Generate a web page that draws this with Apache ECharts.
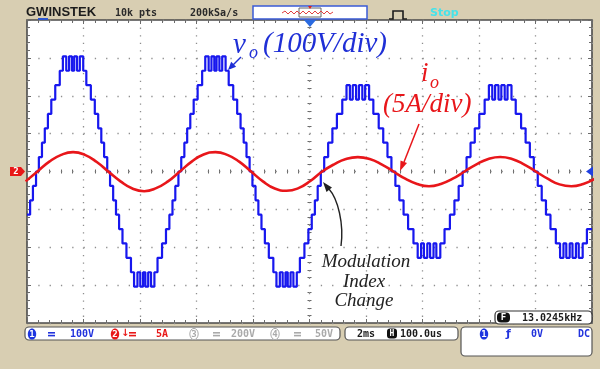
<!DOCTYPE html>
<html><head><meta charset="utf-8">
<script src="https://cdn.jsdelivr.net/npm/echarts@6/dist/echarts.min.js"></script>
<style>html,body{margin:0;padding:0;background:#d8ceb2;}#c{width:600px;height:369px;}</style>
</head><body><div id="c"></div>
<script>
// ---- Channel 1: output voltage v_o (V), staircase levels ----
const voTimeMs = [
 0.00,0.11,0.21,0.32,0.42,0.53,0.63,0.74,0.86,1.00,1.16,1.27,1.39,1.49,1.59,1.67,1.77,1.87,1.99,2.10,2.26,2.40,2.52,2.63,2.73,2.84,2.94,3.05,3.15,3.26,3.38,3.52,3.68,3.79,3.91,4.01,4.11,4.19,4.29,4.39,4.51,4.62,4.78,4.92,5.04,5.15,5.25,5.36,
 5.46,5.57,5.67,5.78,5.90,6.04,6.20,6.31,6.43,6.53,6.63,6.71,6.81,6.91,7.03,7.14,7.30,7.44,7.56,7.67,7.77,7.88,7.98,8.09,8.19,8.30,8.42,8.56,8.72,8.83,8.95,9.05,9.15,9.23,9.33,9.43,9.55,9.66,9.82,9.96,10.08,10.19,10.29,10.40,
 10.52,10.66,10.81,10.97,11.16,11.31,11.43,11.53,11.65,11.75,11.87,11.97,12.11,12.26,12.45,12.61,12.76,12.90,13.04,13.18,13.33,13.49,13.68,13.83,13.95,14.05,14.17,14.27,14.39,14.49,14.63,14.78,14.97,15.13,15.28,15.42,
 15.56,15.70,15.85,16.01,16.20,16.35,16.47,16.57,16.69,16.79,16.91,17.01,17.15,17.30,17.49,17.65,17.80,17.94,18.08,18.22,18.37,18.53,18.72,18.87,18.99,19.09,19.21,19.31,19.43,19.53,19.67,19.82,20.00
];
const voVolts = [
 -114,-76,-38,0,38,76,114,152,190,228,266,304,266,304,266,304,266,304,266,228,190,152,114,76,38,0,-38,-76,-114,-152,-190,-228,-266,-304,-266,-304,-266,-304,-266,-304,-266,-228,-190,-152,-114,-76,-38,0,
 38,76,114,152,190,228,266,304,266,304,266,304,266,304,266,228,190,152,114,76,38,0,-38,-76,-114,-152,-190,-228,-266,-304,-266,-304,-266,-304,-266,-304,-266,-228,-190,-152,-114,-76,-38,0,
 38,76,114,152,190,228,190,228,190,228,190,228,190,152,114,76,38,0,-38,-76,-114,-152,-190,-228,-190,-228,-190,-228,-190,-228,-190,-152,-114,-76,-38,0,
 38,76,114,152,190,228,190,228,190,228,190,228,190,152,114,76,38,0,-38,-76,-114,-152,-190,-228,-190,-228,-190,-228,-190,-228,-190,-152,-152
];
// ---- Channel 2: output current i_o (A) ----
const ioTimeMs = [-0.05,0.37,0.79,1.21,1.63,2.05,2.47,2.89,3.31,3.73,4.15,4.57,4.99,5.41,5.83,6.25,6.67,7.09,7.51,7.93,8.35,8.77,9.19,9.61,10.03,10.45,10.87,11.29,11.71,12.13,12.55,12.97,13.39,13.81,14.23,14.65,15.07,15.49,15.91,16.33,16.75,17.17,17.59,18.01,18.43,18.85,19.27,19.69,20.11];
const ioAmps = [-1.3,0.0,1.3,2.2,2.56,2.2,1.25,-0.05,-1.3,-2.25,-2.6,-2.2,-1.3,0.0,1.3,2.25,2.56,2.2,1.3,0.0,-1.3,-2.25,-2.55,-2.2,-1.25,0.0,0.95,1.65,1.9,1.65,0.95,0.0,-0.95,-1.65,-1.95,-1.65,-0.95,0.0,0.95,1.65,1.92,1.65,0.95,0.0,-0.95,-1.7,-1.95,-1.65,-0.95];
// ---- scope settings ----
const timeRange = [0, 20], timePerDiv = 2;      // 2 ms/div
const vRange = [-400, 400], vPerDiv = 100;       // 100 V/div
const iRange = [-20, 20], iPerDiv = 5;           // 5 A/div

const G = {left: 27, top: 20, width: 565, height: 303};
const BLUE = '#1717ee', RED = '#e8161a', TXTBLUE = '#1f2fd6';
const MONO = '"DejaVu Sans Mono"';

function txt(x, y, text, font, color, align) {
  return {type: 'text', z: 102, style: {x: x, y: y, text: text, font: font, fill: color, textAlign: align || 'left', textVerticalAlign: 'middle'}};
}
function rect(x, y, w, h, r, fill, stroke, lw) {
  return {type: 'rect', z: 99, shape: {x: x, y: y, width: w, height: h, r: r || 0}, style: {fill: fill, stroke: stroke || null, lineWidth: lw || 1}};
}
function arrowHead(tip, from, len, half, color) {
  const dx = tip[0] - from[0], dy = tip[1] - from[1], d = Math.hypot(dx, dy);
  const ux = dx / d, uy = dy / d, bx = tip[0] - ux * len, by = tip[1] - uy * len;
  return {type: 'polygon', z: 101, shape: {points: [tip, [bx - uy * half, by + ux * half], [bx + uy * half, by - ux * half]]}, style: {fill: color}};
}
function chIcon(cx, cy, label, fill, stroke, color) {
  return [
    {type: 'ellipse', z: 100, shape: {cx: cx, cy: cy, rx: 4.2, ry: 5.6}, style: {fill: fill, stroke: stroke || null, lineWidth: 1}},
    txt(cx, cy + 0.5, label, 'bold 9px ' + MONO, color, 'center')
  ];
}
function dcSym(x, y, color) {
  return [rect(x, y - 2, 7, 1.6, 0, color), rect(x, y + 0.8, 7, 1.6, 0, color)];
}

const graphics = [].concat(
  // header
  [txt(26, 12, 'GWINSTEK', 'bold 13px "Liberation Sans"', '#1c1c1c'),
   rect(38, 18, 10, 2, 0, '#2a55d0'),
   txt(115, 13, '10k pts', 'bold 10px ' + MONO, '#2a2a2a'),
   txt(190, 13, '200kSa/s', 'bold 10px ' + MONO, '#2a2a2a'),
   rect(253, 6, 114, 13, 0, '#ffffff', '#3a5bd6', 1.5),
   {type: 'polyline', z: 100, shape: {points: [[282,13],[285,11],[288,14],[291,11],[294,14],[297,11],[300,14],[303,11],[306,14],[309,11],[312,14],[315,11],[318,14],[321,11],[324,14],[327,11],[330,14],[333,12]]}, style: {stroke: '#e04040', lineWidth: 1, fill: null}},
   rect(299, 8, 22, 9, 0, null, '#666', 1),
   {type: 'polygon', z: 101, shape: {points: [[308,6],[312,6],[310,9]]}, style: {fill: '#e02020'}},
   {type: 'polyline', z: 100, shape: {points: [[389,19],[393,19],[393,11],[403,11],[403,19],[407,19]]}, style: {stroke: '#1c1c1c', lineWidth: 1.6, fill: null}},
   txt(430, 13, 'Stop', 'bold 11px "DejaVu Sans"', '#45e3ea'),
   {type: 'polygon', z: 101, shape: {points: [[304,20],[316,20],[310,27]]}, style: {fill: '#2a6ae0'}},
   // channel markers
   {type: 'polygon', z: 101, shape: {points: [[10,167],[21,167],[25,171.5],[21,176],[10,176]]}, style: {fill: '#e81818'}},
   txt(16, 172, '2', 'bold 9px ' + MONO, '#ffffff', 'center'),
   {type: 'polygon', z: 101, shape: {points: [[586,171.5],[593,166.5],[593,176.5]]}, style: {fill: '#2040e0'}},
   // footer boxes
   rect(25, 327, 315, 13, 4, '#ffffff', '#555', 1.2),
   rect(345, 327, 113, 13, 4, '#ffffff', '#555', 1.2),
   rect(461, 327, 131, 29, 4, '#ffffff', '#555', 1.2),
   rect(495, 311, 97, 13, 4, '#ffffff', '#333', 1.2),
   rect(497, 312.5, 13, 10, 4, '#111111'),
   txt(503.5, 318, 'F', 'bold 9px ' + MONO, '#ffffff', 'center'),
   txt(522, 318, '13.0245kHz', 'bold 10px ' + MONO, '#1c1c1c'),
   txt(70, 334, '100V', 'bold 10px ' + MONO, '#2233dd'),
   txt(121, 333.5, '\u2193', 'bold 10px "DejaVu Sans"', '#e81818'),
   txt(156, 334, '5A', 'bold 10px ' + MONO, '#e81818'),
   txt(231, 334, '200V', 'bold 10px ' + MONO, '#aaaaaa'),
   txt(315, 334, '50V', 'bold 10px ' + MONO, '#aaaaaa'),
   txt(357, 334, '2ms', 'bold 10px ' + MONO, '#1c1c1c'),
   rect(387, 328.5, 10, 10, 3, '#111111'),
   txt(392, 334, 'H', 'bold 8px ' + MONO, '#ffffff', 'center'),
   txt(400, 334, '100.0us', 'bold 10px ' + MONO, '#1c1c1c'),
   txt(506, 334, '\u0192', 'bold 11px "DejaVu Sans"', '#2233dd'),
   txt(531, 334, '0V', 'bold 10px ' + MONO, '#2233dd'),
   txt(578, 334, 'DC', 'bold 10px ' + MONO, '#2233dd')
  ],
  chIcon(32, 334, '1', '#1d35e0', null, '#ffffff'),
  dcSym(48, 334, '#2233dd'),
  chIcon(115, 334, '2', '#e81818', null, '#ffffff'),
  dcSym(129, 334, '#e81818'),
  chIcon(194, 334, '3', '#ffffff', '#aaaaaa', '#aaaaaa'),
  dcSym(213, 334, '#aaaaaa'),
  chIcon(275, 334, '4', '#ffffff', '#aaaaaa', '#aaaaaa'),
  dcSym(294, 334, '#aaaaaa'),
  chIcon(484, 334, '1', '#1d35e0', null, '#ffffff'),
  // annotations
  [txt(233, 45, 'v', 'italic 29px "Liberation Serif"', TXTBLUE),
   txt(249, 53, 'o', 'italic 18px "Liberation Serif"', TXTBLUE),
   txt(263, 44, '(100V/div)', 'italic 29px "Liberation Serif"', TXTBLUE),
   {type: 'line', z: 100, shape: {x1: 241, y1: 57, x2: 233, y2: 65}, style: {stroke: TXTBLUE, lineWidth: 1.5}},
   arrowHead([228, 70], [241, 57], 8, 3.5, TXTBLUE),
   txt(421, 74, 'i', 'italic 27px "Liberation Serif"', RED),
   txt(430, 83, 'o', 'italic 18px "Liberation Serif"', RED),
   txt(383, 105, '(5A/div)', 'italic 27px "Liberation Serif"', RED),
   {type: 'line', z: 100, shape: {x1: 419, y1: 124, x2: 404, y2: 162}, style: {stroke: RED, lineWidth: 1.5}},
   arrowHead([400, 171], [419, 124], 10, 3.5, RED),
   txt(366, 262, 'Modulation', 'italic 19px "Liberation Serif"', '#222', 'center'),
   txt(364, 282, 'Index', 'italic 19px "Liberation Serif"', '#222', 'center'),
   txt(364, 301, 'Change', 'italic 19px "Liberation Serif"', '#222', 'center'),
   {type: 'bezierCurve', z: 100, shape: {x1: 341, y1: 246, cpx1: 344, cpy1: 224, cpx2: 338, cpy2: 199, x2: 329, y2: 189}, style: {stroke: '#222', lineWidth: 1.4, fill: null}},
   arrowHead([323, 182], [331, 192], 10, 3.5, '#222')
  ]
);

const tickStyle = {color: '#6a6a6a', width: 1};
function borderAxis(extra) {
  return Object.assign({
    type: 'value', gridIndex: 0, axisLabel: {show: false},
    axisLine: {show: false, onZero: false},
    axisTick: {show: true, inside: true, length: 4, lineStyle: tickStyle},
    minorTick: {show: true, splitNumber: 5, length: 3, lineStyle: tickStyle},
    splitLine: {show: false}
  }, extra);
}
const dotCol = '#8e8e8e';

const option = {
  animation: false,
  backgroundColor: '#d8ceb2',
  grid: {left: G.left, top: G.top, width: G.width, height: G.height, show: true, backgroundColor: '#ffffff', borderColor: '#4a4a4a', borderWidth: 1.6, outerBoundsMode: 'none'},
  xAxis: [
    borderAxis({min: timeRange[0], max: timeRange[1], interval: timePerDiv, position: 'bottom',
      splitLine: {show: true, lineStyle: {color: dotCol, width: 1.3, type: [1.3, 6.28]}}}),
    borderAxis({min: timeRange[0], max: timeRange[1], interval: timePerDiv, position: 'top'}),
    borderAxis({min: timeRange[0], max: timeRange[1], interval: timePerDiv, position: 'bottom', offset: -G.height / 2,
      axisTick: {show: false}, minorTick: {show: true, splitNumber: 5, length: 2, lineStyle: tickStyle}}),
    borderAxis({min: timeRange[0], max: timeRange[1], interval: timePerDiv, position: 'top', offset: -G.height / 2,
      axisTick: {show: false}, minorTick: {show: true, splitNumber: 5, length: 2, lineStyle: tickStyle}})
  ],
  yAxis: [
    borderAxis({min: vRange[0], max: vRange[1], interval: vPerDiv, position: 'left',
      splitLine: {show: true, lineStyle: {color: dotCol, width: 1.3, type: [1.3, 10.0]}}}),
    borderAxis({min: iRange[0], max: iRange[1], interval: iPerDiv, position: 'right'}),
    borderAxis({min: vRange[0], max: vRange[1], interval: vPerDiv, position: 'left', offset: -G.width / 2,
      axisTick: {show: false}, minorTick: {show: true, splitNumber: 5, length: 2, lineStyle: tickStyle}}),
    borderAxis({min: vRange[0], max: vRange[1], interval: vPerDiv, position: 'right', offset: -G.width / 2,
      axisTick: {show: false}, minorTick: {show: true, splitNumber: 5, length: 2, lineStyle: tickStyle}})
  ],
  series: [
    {type: 'line', name: 'vo', xAxisIndex: 0, yAxisIndex: 0, step: 'end', showSymbol: false, clip: true, z: 3,
     data: voTimeMs.map(function (t, i) { return [t, voVolts[i]]; }),
     lineStyle: {color: BLUE, width: 2.2}, itemStyle: {color: BLUE}},
    {type: 'line', name: 'io', xAxisIndex: 0, yAxisIndex: 1, smooth: true, showSymbol: false, clip: true, z: 4,
     data: ioTimeMs.map(function (t, i) { return [t, ioAmps[i]]; }),
     lineStyle: {color: RED, width: 2.6}, itemStyle: {color: RED}}
  ],
  graphic: graphics
};
const chart = echarts.init(document.getElementById('c'), null, {renderer: 'canvas'});
chart.setOption(option);
</script>
</body></html>
